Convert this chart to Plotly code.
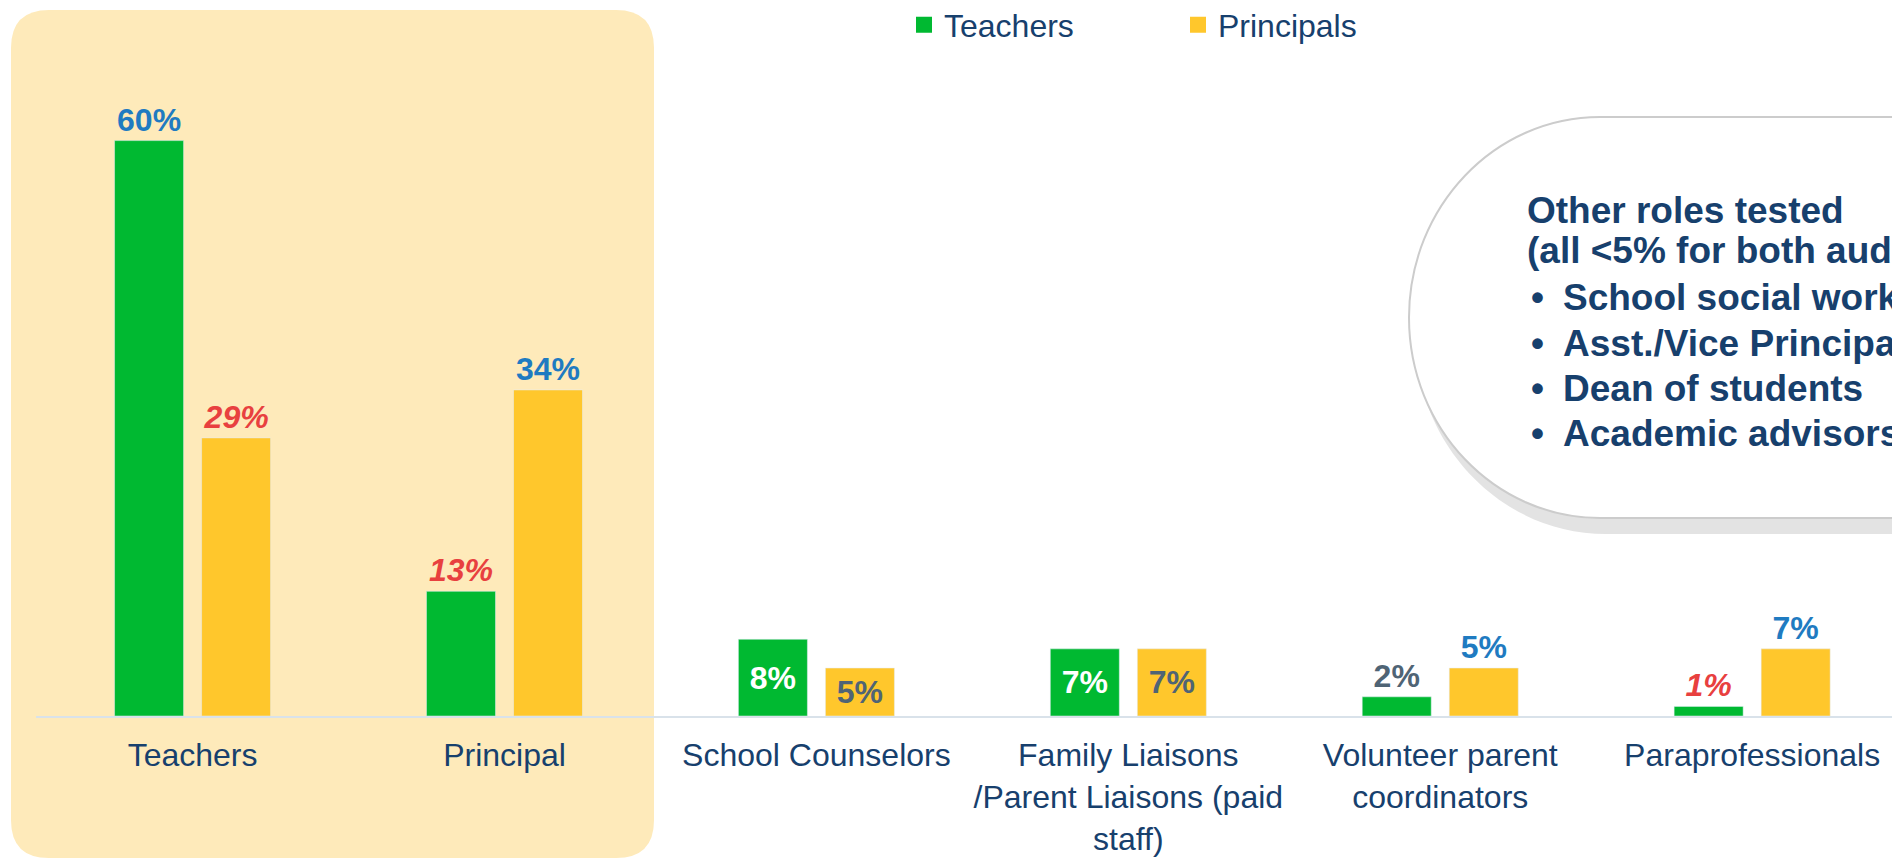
import plotly.graph_objects as go

# data
categories = ["Teachers", "Principal", "School Counselors",
              "Family Liaisons /Parent Liaisons (paid staff)",
              "Volunteer parent coordinators", "Paraprofessionals"]
tick_labels = ["Teachers", "Principal", "School Counselors",
               "Family Liaisons<br>/Parent Liaisons (paid<br>staff)",
               "Volunteer parent<br>coordinators", "Paraprofessionals"]
teachers = [60, 13, 8, 7, 2, 1]
principals = [29, 34, 5, 7, 5, 7]

other_title = ["Other roles tested", "(all &lt;5% for both audiences)"]
other_roles = ["School social workers", "Asst./Vice Principals",
               "Dean of students", "Academic advisors"]

# colours / styles
GREEN = "#00B931"
YELLOW = "#FFC72C"
NAVY = "#17406D"
BLUE = "#1F7BC1"
RED = "#E8403F"
GRAY = "#4F6475"
WHITE = "#FFFFFF"
FONT = "Liberation Sans, Arial, sans-serif"

t_colors = [BLUE, RED, WHITE, WHITE, GRAY, RED]
t_italic = [False, True, False, False, False, True]
t_pos = ["outside", "outside", "inside", "inside", "outside", "outside"]
p_colors = [RED, BLUE, GRAY, GRAY, BLUE, BLUE]
p_italic = [True, False, False, False, False, False]
p_pos = ["outside", "outside", "inside", "inside", "outside", "outside"]


def labels(vals, italic):
    out = []
    for v, it in zip(vals, italic):
        s = f"{v}%"
        if it:
            s = f"<i>{s}</i>"
        out.append(f"<b>{s}</b>")
    return out


# the page body has an 8px margin, so the figure is a bit smaller
# and all positions below are given in screen pixels
OFF = 8
W, H = 1900 - OFF, 859 - OFF
PL, PR, PT, PB = 36, 1900, OFF, 716
UNIT = 9.59  # px per percentage point
YMAX = (PB - PT) / UNIT


def px(x):
    return (x - PL) / (PR - PL)


def py(y):
    return (PB - y) / (PB - PT)


fig = go.Figure()
fig.add_trace(go.Bar(
    name="Teachers", x=categories, y=teachers, marker_color=GREEN,
    text=labels(teachers, t_italic), textposition=t_pos,
    textfont=dict(family=FONT, size=32, color=t_colors),
    insidetextfont=dict(family=FONT, size=32, color=t_colors),
    outsidetextfont=dict(family=FONT, size=32, color=t_colors),
    insidetextanchor="middle", cliponaxis=False, hoverinfo="skip",
    showlegend=False))
fig.add_trace(go.Bar(
    name="Principals", x=categories, y=principals, marker_color=YELLOW,
    text=labels(principals, p_italic), textposition=p_pos,
    textfont=dict(family=FONT, size=32, color=p_colors),
    insidetextfont=dict(family=FONT, size=32, color=p_colors),
    outsidetextfont=dict(family=FONT, size=32, color=p_colors),
    insidetextanchor="middle", cliponaxis=False, hoverinfo="skip",
    showlegend=False))
# legend entries with bigger square swatches
for nm, col in [("Teachers", GREEN), ("Principals", YELLOW)]:
    fig.add_trace(go.Scatter(x=[None], y=[None], mode="markers", name=nm,
                             marker=dict(symbol="square", size=17, color=col),
                             hoverinfo="skip"))


def rounded_rect(x0, y0, x1, y1, r):
    p = f"M {px(x0 + r)},{py(y0)} L {px(x1 - r)},{py(y0)} "
    p += f"Q {px(x1)},{py(y0)} {px(x1)},{py(y0 + r)} "
    p += f"L {px(x1)},{py(y1 - r)} Q {px(x1)},{py(y1)} {px(x1 - r)},{py(y1)} "
    p += f"L {px(x0 + r)},{py(y1)} Q {px(x0)},{py(y1)} {px(x0)},{py(y1 - r)} "
    p += f"L {px(x0)},{py(y0 + r)} Q {px(x0)},{py(y0)} {px(x0 + r)},{py(y0)} Z"
    return p


def callout(x0, xc, x1, y0, y1):
    k = 0.5523
    rx, ry = xc - x0, (y1 - y0) / 2
    ym = (y0 + y1) / 2
    p = f"M {px(xc)},{py(y0)} L {px(x1)},{py(y0)} L {px(x1)},{py(y1)} L {px(xc)},{py(y1)} "
    p += f"C {px(xc - k * rx)},{py(y1)} {px(x0)},{py(ym + k * ry)} {px(x0)},{py(ym)} "
    p += f"C {px(x0)},{py(ym - k * ry)} {px(xc - k * rx)},{py(y0)} {px(xc)},{py(y0)} Z"
    return p


shapes = [
    dict(type="path", xref="paper", yref="paper", layer="below",
         path=rounded_rect(11, 10, 654, 858, 38),
         fillcolor="#FEEABA", line=dict(width=0)),
    dict(type="path", xref="paper", yref="paper", layer="below",
         path=callout(1415, 1606, 1980, 133, 534),
         fillcolor="#E3E3E3", line=dict(width=0)),
    dict(type="path", xref="paper", yref="paper", layer="below",
         path=callout(1409, 1600, 1980, 117, 518),
         fillcolor="white", line=dict(color="#CCCCCC", width=2)),
]

annotations = []
title_y = [210, 251]
for t, yy in zip(other_title, title_y):
    annotations.append(dict(xref="paper", yref="paper", x=px(1525), y=py(yy),
                            xanchor="left", yanchor="middle", showarrow=False,
                            text=f"<b>{t}</b>",
                            font=dict(family=FONT, size=37, color=NAVY)))
role_y = [298, 343, 388, 433]
for t, yy in zip(other_roles, role_y):
    annotations.append(dict(xref="paper", yref="paper", x=px(1529), y=py(yy),
                            xanchor="left", yanchor="middle", showarrow=False,
                            text="<b>•</b>",
                            font=dict(family=FONT, size=37, color=NAVY)))
    annotations.append(dict(xref="paper", yref="paper", x=px(1561), y=py(yy),
                            xanchor="left", yanchor="middle", showarrow=False,
                            text=f"<b>{t}</b>",
                            font=dict(family=FONT, size=37, color=NAVY)))

fig.update_layout(
    width=W, height=H,
    margin=dict(l=PL - OFF, r=0, t=PT - OFF, b=H - (PB - OFF), pad=0,
                autoexpand=False),
    paper_bgcolor="white", plot_bgcolor="rgba(0,0,0,0)",
    barmode="group", bargap=0.442, bargroupgap=0.207,
    font=dict(family=FONT, color=NAVY),
    showlegend=True,
    legend=dict(orientation="h", x=px(904), xanchor="left",
                y=py(25), yanchor="middle",
                font=dict(family=FONT, size=32, color=NAVY),
                entrywidth=229, entrywidthmode="pixels",
                bgcolor="rgba(0,0,0,0)"),
    uniformtext=dict(minsize=32, mode="show"),
    shapes=shapes, annotations=annotations,
)
fig.update_xaxes(type="category", range=[-0.502, 5.474],
                 tickvals=categories, ticktext=tick_labels,
                 tickfont=dict(family=FONT, size=32, color=NAVY),
                 showline=True, linecolor="#D9E2EA", linewidth=2,
                 ticks="", ticklabelstandoff=10, showgrid=False, zeroline=False)
fig.update_yaxes(range=[0, YMAX], visible=False, showgrid=False, zeroline=False)

fig.write_html("out.html")
